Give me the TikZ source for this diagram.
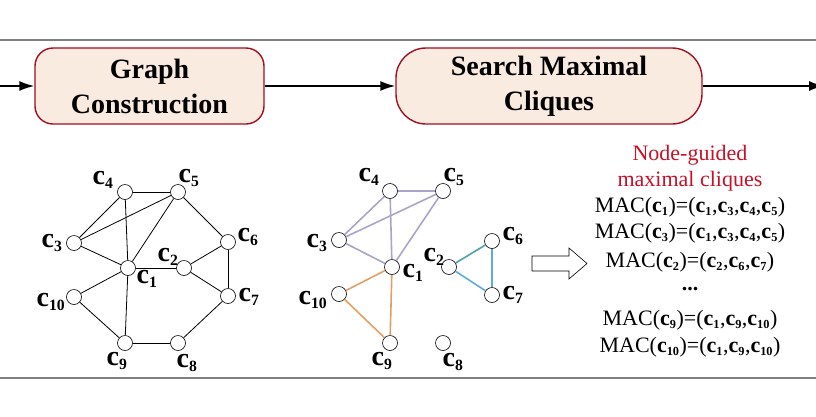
\documentclass[tikz,border=0pt]{standalone}
\usepackage{fontspec}
\setmainfont{Liberation Serif}
\usepackage{graphicx}
\usepackage{xcolor}
\usepackage{tikz}
\usetikzlibrary{arrows,arrows.meta,calc,positioning}

\definecolor{boxfill}{RGB}{250,235,224}
\definecolor{boxline}{RGB}{160,16,32}
\definecolor{rulegray}{RGB}{128,128,128}
\definecolor{cliqueA}{RGB}{168,165,200}
\definecolor{cliqueB}{RGB}{226,160,100}
\definecolor{cliqueC}{RGB}{92,172,222}
\definecolor{cliqueD}{RGB}{80,160,165}
\definecolor{titlered}{RGB}{200,16,40}

\newcommand{\cv}[1]{\textbf{c}\textsubscript{\scalebox{0.8}{\bfseries #1}}}

\tikzset{
  stage/.style={draw=boxline, fill=boxfill, line width=1.4pt, align=center,
    font=\fontsize{28}{35}\selectfont\bfseries, inner sep=0pt},
  vtx/.style={circle, draw=black, fill=white, line width=0.6pt,
    minimum size=15pt, inner sep=0pt},
  vlbl/.style={font=\fontsize{28}{30}\selectfont, inner sep=0pt},
  macline/.style={font=\fontsize{22}{26}\selectfont, anchor=base, inner sep=0pt},
  flow/.style={line width=1.6pt, -{Latex[length=15pt,width=10pt]}}
}

\begin{document}
\begin{tikzpicture}[x=1pt, y=-1pt, >=latex]

\useasboundingbox (0,0) rectangle (816,416);
\clip (0,0) rectangle (816,416);

% the rules

    \draw[rulegray, line width=2.4pt] (0,40) -- (816,40);
    \draw[rulegray, line width=2.4pt] (0,378) -- (816,378);

% the stages

    \node[stage, minimum width=229pt, minimum height=76pt, rounded corners=18pt]
      (build) at (149.5,86) {Graph\\Construction};
    \node[stage, minimum width=306pt, minimum height=76pt, rounded corners=30pt]
      (search) at (549,86) {Search Maximal\\Cliques};

    \coordinate (start) at (0,86);
    \coordinate (finish) at (824,86);

    \draw[flow] (start) -- (build.west);
    \draw[flow] (build.east) -- (search.west);
    \draw[flow] (search.east) -- (finish);

% the graph

    \foreach \n/\x/\y in {1/128/268, 2/184/268, 3/74/243, 4/125/192, 5/178/192,
                          6/228/242, 7/228/296, 8/178/343, 9/125/343, 10/74/297}{
       \node[vtx] (a\n) at (\x,\y) {};
    }
    \foreach \n/\x/\y in {1/147/279, 2/168/257, 3/52/243, 4/103/180, 5/189/178,
                          6/248/237, 7/249/297, 8/187/363, 9/117/361, 10/51/302}{
       \node[vlbl] (la\n) at (\x,\y) {\cv{\n}};
    }
    \foreach \a/\b in {4/5, 4/3, 4/1, 5/3, 5/1, 5/6, 3/1, 1/2, 2/6, 2/7,
                       6/7, 1/10, 1/9, 10/9, 9/8, 8/7}{
       \draw[line width=0.8pt] (a\a) -- (a\b);
    }

% the cliques

    \foreach \n/\x/\y in {1/392/267, 2/449/267, 3/339/240, 4/390/191, 5/443/191,
                          6/492/241, 7/492/295, 8/443/343, 9/390/343, 10/339/294}{
       \node[vtx] (b\n) at (\x,\y) {};
    }
    \foreach \n/\x/\y in {1/413/273, 2/434/257, 3/317/243, 4/369/177, 5/454/177,
                          6/513/236, 7/513/295, 8/453/362, 9/382/361, 10/313/300}{
       \node[vlbl] (lb\n) at (\x,\y) {\cv{\n}};
    }
    \foreach \a/\b in {4/5, 4/3, 4/1, 5/3, 5/1, 3/1}{
       \draw[cliqueA, line width=1.6pt] (b\a) -- (b\b);
    }
    \foreach \a/\b in {1/10, 1/9, 10/9}{
       \draw[cliqueB, line width=1.6pt] (b\a) -- (b\b);
    }
    \draw[cliqueD, line width=1.6pt] (b2) -- (b6);
    \draw[cliqueC, line width=1.6pt] (b2) -- (b7);
    \draw[cliqueC, line width=1.6pt] (b6) -- (b7);

    \draw[line width=0.6pt, fill=white] (532,256) -- (569,256) -- (569,248) -- (587,263.5)
      -- (569,279) -- (569,271) -- (532,271) -- cycle;

% the list

    \node[macline, text=titlered] (head1) at (690,160) {Node-guided};
    \node[macline, text=titlered] (head2) at (690,186) {maximal cliques};
    \node[macline] (mac1) at (690,212) {MAC(\cv{1})=(\cv{1},\cv{3},\cv{4},\cv{5})};
    \node[macline] (mac3) at (690,238) {MAC(\cv{3})=(\cv{1},\cv{3},\cv{4},\cv{5})};
    \node[macline] (mac2) at (690,267) {MAC(\cv{2})=(\cv{2},\cv{6},\cv{7})};
    \node[macline] (dots) at (690,290) {\textbf{...}};
    \node[macline] (mac9) at (690,325) {MAC(\cv{9})=(\cv{1},\cv{9},\cv{10})};
    \node[macline] (mac10) at (690,352) {MAC(\cv{10})=(\cv{1},\cv{9},\cv{10})};

\end{tikzpicture}
\end{document}
